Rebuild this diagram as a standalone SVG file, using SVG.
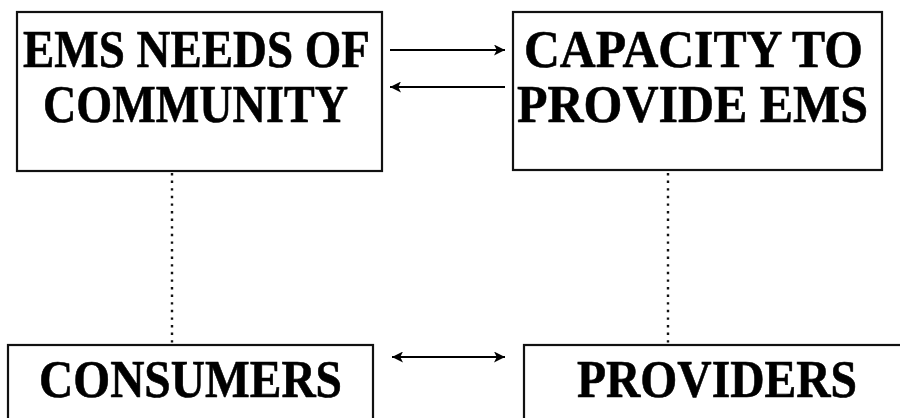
<svg xmlns="http://www.w3.org/2000/svg" width="900" height="418" viewBox="0 0 900 418">
<defs>
<marker id="ah" viewBox="0 0 10 10" refX="10" refY="5" markerWidth="12" markerHeight="11" markerUnits="userSpaceOnUse" orient="auto-start-reverse">
<path d="M0,0 L10,5 L0,10 L2.5,5 Z" fill="#000"/>
</marker>
<style>
.box{fill:#fff;stroke:#111;stroke-width:2.2}
.t{font-family:"Liberation Serif","Times New Roman",serif;font-weight:bold;font-size:53px;fill:#000;stroke:#000;stroke-width:0.6}
.arr{stroke:#000;stroke-width:2.2;fill:none}
.dot{stroke:#111;stroke-width:2.4;stroke-dasharray:2.4 5.2;fill:none}
</style>
</defs>
<rect width="900" height="418" fill="#fff"/>
<g id="connectors">
<line class="arr" x1="390" y1="50" x2="505" y2="50" marker-end="url(#ah)"/>
<line class="arr" x1="505" y1="87" x2="390" y2="87" marker-end="url(#ah)"/>
<line class="arr" x1="392" y1="357" x2="505" y2="357" marker-start="url(#ah)" marker-end="url(#ah)"/>
<line class="dot" x1="172" y1="173" x2="172" y2="344"/>
<line class="dot" x1="668" y1="173" x2="668" y2="344"/>
</g>
<g id="ems-needs">
<rect class="box" x="17" y="12" width="365" height="159"/>
<text class="t" x="23" y="67" textLength="347" lengthAdjust="spacingAndGlyphs">EMS NEEDS OF</text>
<text class="t" x="43" y="122" textLength="305" lengthAdjust="spacingAndGlyphs">COMMUNITY</text>
</g>
<g id="capacity">
<rect class="box" x="513" y="12" width="369" height="158"/>
<text class="t" x="524" y="67" textLength="339" lengthAdjust="spacingAndGlyphs">CAPACITY TO</text>
<text class="t" x="517" y="122" textLength="351" lengthAdjust="spacingAndGlyphs">PROVIDE EMS</text>
</g>
<g id="consumers">
<rect class="box" x="8" y="345" width="365" height="100"/>
<text class="t" x="39" y="397" textLength="303" lengthAdjust="spacingAndGlyphs">CONSUMERS</text>
</g>
<g id="providers">
<rect class="box" x="524" y="345" width="400" height="100"/>
<text class="t" x="577" y="397" textLength="280" lengthAdjust="spacingAndGlyphs">PROVIDERS</text>
</g>
</svg>
